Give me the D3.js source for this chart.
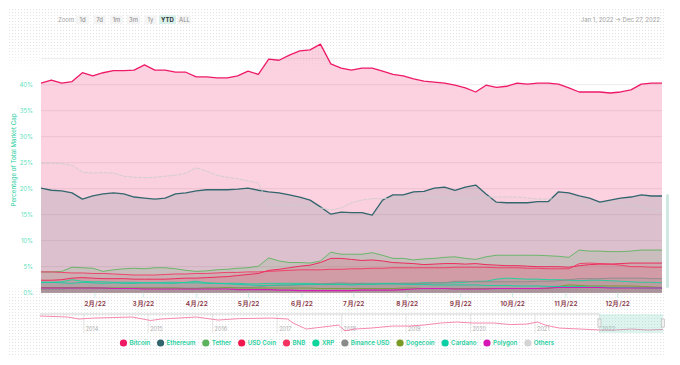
<!DOCTYPE html>
<html>
<head>
<meta charset="utf-8">
<script src="https://cdn.jsdelivr.net/npm/d3@7"></script>
<style>
  body { margin: 0; background: #fff; }
  svg { display: block; font-family: Inter, "Open Sans", sans-serif; }
</style>
</head>
<body>
<script>
// sample dates: every 6 days from Jan 1 to Dec 27, 2022
const startDay = new Date(2022, 0, 1);
const dates = d3.range(61).map(i => d3.timeDay.offset(startDay, i * 6));

// dominance values (%)
const bitcoin = [40.3, 40.9, 40.3, 40.6, 42.3, 41.7, 42.3, 42.7, 42.7, 42.8, 43.8, 42.8, 42.8, 42.4, 42.4, 41.5, 41.5, 41.3, 41.3, 41.7, 42.6, 42.0, 44.9, 44.7, 45.7, 46.5, 46.7, 47.8, 44.0, 43.2, 42.8, 43.2, 43.2, 42.6, 42.0, 41.7, 41.1, 40.7, 40.5, 40.3, 39.9, 39.4, 38.6, 39.9, 39.5, 39.7, 40.3, 40.1, 40.3, 40.3, 40.1, 39.4, 38.6, 38.6, 38.6, 38.4, 38.6, 39.0, 40.1, 40.3, 40.3];
const ethereum = [20.1, 19.7, 19.6, 19.2, 18.0, 18.6, 19.0, 19.2, 19.0, 18.4, 18.2, 18.0, 18.2, 19.0, 19.2, 19.6, 19.8, 19.8, 19.8, 19.9, 20.1, 19.7, 19.4, 19.2, 18.8, 18.4, 17.8, 16.5, 15.1, 15.5, 15.4, 15.4, 14.9, 17.8, 18.8, 18.8, 19.4, 19.5, 20.1, 20.3, 19.7, 20.3, 20.7, 19.0, 17.4, 17.3, 17.3, 17.3, 17.5, 17.5, 19.4, 19.2, 18.6, 18.2, 17.4, 17.8, 18.2, 18.4, 18.8, 18.6, 18.6];
const tether = [4.0, 4.0, 4.1, 4.9, 4.8, 4.7, 4.1, 4.4, 4.6, 4.7, 4.6, 4.8, 4.8, 4.6, 4.3, 4.1, 4.2, 4.4, 4.5, 4.7, 4.8, 5.1, 6.7, 6.1, 5.8, 5.8, 5.7, 6.1, 7.8, 7.4, 7.4, 7.4, 7.7, 7.2, 6.6, 6.6, 6.3, 6.5, 6.6, 6.8, 6.9, 6.6, 6.4, 6.9, 7.2, 7.2, 7.2, 7.2, 7.2, 7.1, 7.0, 6.8, 8.2, 8.0, 8.0, 7.9, 7.9, 8.0, 8.2, 8.2, 8.2];
const usdCoin = [2.4, 2.4, 2.5, 2.8, 2.9, 2.8, 2.7, 2.7, 2.7, 2.6, 2.6, 2.6, 2.6, 2.7, 2.8, 2.8, 2.9, 3.0, 3.1, 3.3, 3.5, 3.7, 4.3, 4.5, 4.8, 5.1, 5.3, 5.8, 6.6, 6.6, 6.4, 6.2, 6.3, 6.1, 5.8, 5.7, 5.6, 5.4, 5.5, 5.6, 5.6, 5.5, 5.6, 5.4, 5.3, 5.2, 5.2, 5.1, 5.0, 5.0, 5.0, 4.9, 5.2, 5.4, 5.5, 5.5, 5.6, 5.7, 5.7, 5.7, 5.7];
const bnb = [4.0, 4.0, 3.9, 3.8, 3.8, 3.7, 3.7, 3.6, 3.5, 3.4, 3.4, 3.4, 3.5, 3.6, 3.6, 3.7, 3.7, 3.8, 3.9, 3.9, 4.0, 4.0, 4.1, 4.2, 4.3, 4.4, 4.4, 4.4, 4.5, 4.5, 4.6, 4.6, 4.7, 4.7, 4.8, 4.8, 4.8, 4.8, 4.8, 4.8, 4.9, 4.9, 4.9, 4.9, 4.8, 4.8, 4.8, 4.7, 4.7, 4.6, 4.6, 4.6, 5.6, 5.7, 5.6, 5.5, 5.3, 5.0, 5.0, 4.9, 4.9];
const xrp = [2.0, 2.0, 2.1, 2.5, 2.2, 2.1, 2.1, 2.0, 2.0, 2.0, 1.9, 1.9, 2.0, 2.0, 1.9, 1.9, 1.8, 1.8, 1.8, 1.8, 1.7, 1.7, 1.8, 1.8, 1.8, 1.8, 1.8, 1.7, 1.7, 1.7, 1.7, 1.8, 1.8, 1.8, 1.8, 1.8, 1.8, 1.9, 1.9, 1.9, 1.9, 2.0, 2.2, 2.2, 2.6, 2.8, 2.7, 2.6, 2.6, 2.5, 2.5, 2.4, 2.3, 2.4, 2.4, 2.3, 2.2, 2.1, 2.0, 2.0, 1.9];
const binanceUsd = [0.7, 0.7, 0.7, 0.9, 0.9, 0.9, 0.9, 0.9, 0.9, 0.9, 0.9, 0.9, 0.9, 0.9, 0.9, 0.9, 0.9, 0.9, 0.9, 1.0, 1.0, 1.1, 1.4, 1.4, 1.4, 1.5, 1.6, 1.7, 1.8, 1.9, 1.8, 1.8, 1.7, 1.7, 1.7, 1.8, 1.8, 1.8, 1.9, 1.9, 2.2, 2.2, 2.1, 2.1, 2.1, 2.1, 2.1, 2.1, 2.2, 2.2, 2.3, 2.5, 2.7, 2.7, 2.7, 2.8, 2.8, 2.8, 2.8, 2.7, 2.7];
const dogecoin = [1.0, 1.0, 1.0, 1.0, 1.0, 1.0, 0.9, 0.9, 0.9, 0.9, 0.9, 0.9, 0.9, 0.9, 0.8, 0.8, 0.9, 0.9, 1.0, 0.9, 0.9, 0.9, 0.9, 0.9, 0.9, 0.9, 0.9, 0.8, 0.8, 0.8, 0.8, 0.8, 0.8, 0.8, 0.8, 0.9, 0.9, 0.8, 0.8, 0.8, 0.8, 0.8, 0.8, 0.8, 0.8, 0.8, 0.8, 0.8, 0.8, 0.8, 1.2, 1.5, 1.4, 1.3, 1.3, 1.3, 1.3, 1.3, 1.2, 1.1, 1.0];
const cardano = [2.0, 2.0, 1.9, 1.8, 2.0, 1.9, 1.8, 1.9, 1.8, 1.8, 1.9, 1.9, 1.8, 1.8, 2.0, 2.2, 1.9, 1.8, 1.7, 1.6, 1.5, 1.4, 1.4, 1.5, 1.5, 1.6, 1.6, 1.6, 1.6, 1.6, 1.5, 1.6, 1.6, 1.7, 1.7, 1.6, 1.6, 1.6, 1.5, 1.5, 1.5, 1.5, 1.5, 1.4, 1.4, 1.4, 1.3, 1.3, 1.3, 1.2, 1.2, 1.2, 1.2, 1.1, 1.1, 1.0, 1.0, 1.0, 0.9, 0.9, 0.9];
const polygon = [0.9, 0.9, 0.9, 0.9, 0.9, 0.9, 0.9, 0.8, 0.8, 0.8, 0.7, 0.7, 0.7, 0.7, 0.7, 0.7, 0.7, 0.7, 0.7, 0.6, 0.6, 0.6, 0.6, 0.5, 0.5, 0.4, 0.4, 0.4, 0.4, 0.4, 0.4, 0.5, 0.5, 0.5, 0.5, 0.6, 0.7, 0.8, 0.8, 0.8, 0.7, 0.7, 0.7, 0.7, 0.8, 0.8, 0.8, 0.8, 0.8, 0.9, 1.0, 1.0, 1.0, 1.0, 1.0, 0.9, 0.9, 0.9, 0.9, 0.9, 0.9];
const others = [24.9, 24.9, 24.8, 24.5, 23.2, 23.0, 23.1, 23.0, 22.4, 22.2, 22.1, 22.2, 22.4, 22.6, 23.0, 24.0, 23.4, 22.6, 22.2, 21.9, 21.5, 21.1, 16.9, 16.9, 16.7, 16.9, 16.9, 16.3, 15.9, 16.3, 17.3, 17.8, 18.1, 18.1, 18.1, 18.3, 18.4, 18.4, 18.4, 18.2, 18.0, 18.1, 18.2, 18.4, 18.4, 18.4, 18.4, 18.2, 18.0, 18.0, 18.2, 18.3, 18.2, 16.9, 17.1, 17.2, 17.1, 16.9, 16.5, 15.9, 15.7];

// navigator: bitcoin dominance since 2013
const navDates = ["2013-04-28", "2013-10-01", "2013-12-05", "2014-03-01", "2014-10-01", "2015-01-15", "2015-03-15", "2015-10-01", "2016-02-01", "2016-06-01", "2016-12-01", "2017-03-01", "2017-04-01", "2017-06-15", "2017-09-15", "2017-12-15", "2018-01-20", "2018-03-15", "2018-06-15", "2018-10-15", "2019-01-15", "2019-04-15", "2019-07-15", "2019-10-15", "2020-01-15", "2020-05-15", "2020-08-15", "2020-11-15", "2021-01-15", "2021-03-01", "2021-05-20", "2021-09-15", "2022-01-01", "2022-04-01", "2022-07-01", "2022-10-01", "2022-12-27"];
const navBitcoin = [92.6, 88.9, 81.5, 85, 88.9, 76, 81.5, 88.9, 77.8, 83, 85, 81.5, 66.7, 44.6, 52, 59, 38, 44.6, 48, 55.6, 55.6, 59.5, 66.7, 70.4, 66.7, 66.7, 61, 63, 70.4, 59, 48, 44.6, 41, 41, 44.6, 41, 43];

const yTicks = [0, 5, 10, 15, 20, 25, 30, 35, 40, 45];
const zoomButtons = ["1d", "7d", "1m", "3m", "1y", "YTD", "ALL"];

const series = [
    {name: "Bitcoin", color: "#ee1a66", values: bitcoin, fill: 0.2, width: 1.3},
    {name: "Ethereum", color: "#31656d", values: ethereum, fill: 0.15, width: 1.3},
    {name: "Tether", color: "#5cb35e", values: tether, fill: 0.15, width: 0.9},
    {name: "USD Coin", color: "#f2174f", values: usdCoin, fill: 0.13, width: 0.9},
    {name: "BNB", color: "#f4325f", values: bnb, fill: 0.1, width: 0.9},
    {name: "XRP", color: "#10d69b", values: xrp, fill: 0.08, width: 0.9},
    {name: "Binance USD", color: "#8a8a8a", values: binanceUsd, fill: 0.1, width: 0.9},
    {name: "Dogecoin", color: "#7b9a25", values: dogecoin, fill: 0.08, width: 0.9},
    {name: "Cardano", color: "#0dcfa6", values: cardano, fill: 0.08, width: 0.9},
    {name: "Polygon", color: "#d617b6", values: polygon, fill: 0.08, width: 1.1},
    {name: "Others", color: "#cdcdcd", values: others, fill: 0.03, width: 0.9}
];

const w = 680, h = 365;
const svg = d3.select("body").append("svg").attr("width", w).attr("height", h);
const defs = svg.append("defs");

// dotted backdrop, faded in the middle
defs.append("pattern").attr("id", "dots")
    .attr("width", 3).attr("height", 3).attr("patternUnits", "userSpaceOnUse")
    .append("rect").attr("width", 1).attr("height", 1).attr("fill", "#e3e3e3");
const grad = defs.append("linearGradient").attr("id", "fade")
    .attr("gradientUnits", "userSpaceOnUse").attr("x1", 0).attr("y1", 0).attr("x2", 0).attr("y2", h);
[[0, 1], [45, 1], [72, 0], [284, 0], [296, 1], [365, 1]].forEach(s => {
    grad.append("stop").attr("offset", s[0] / h).attr("stop-color", "#fff").attr("stop-opacity", s[1]);
});
defs.append("mask").attr("id", "fadeMask")
    .append("rect").attr("x", 0).attr("y", 0).attr("width", w).attr("height", h).attr("fill", "url(#fade)");
svg.append("rect")
    .attr("x", 8).attr("y", 9).attr("width", 658).attr("height", 348)
    .attr("fill", "url(#dots)").attr("mask", "url(#fadeMask)");

const x = d3.scaleTime().domain([dates[0], dates[dates.length - 1]]).range([41, 662]);
const y = d3.scaleLinear().domain([0, 45]).range([292.7, 58.7]);

// grid
svg.append("g").selectAll("line").data(yTicks).enter().append("line")
    .attr("x1", 41).attr("x2", 662)
    .attr("y1", d => y(d)).attr("y2", d => y(d))
    .attr("stroke", "#ececec").attr("stroke-width", 1);

svg.append("g").selectAll("text").data(yTicks.filter(d => d < 45)).enter().append("text")
    .attr("x", 33).attr("y", d => y(d)).attr("dy", "0.35em")
    .attr("text-anchor", "end").attr("font-size", "6px").attr("fill", "#5fdfc0")
    .text(d => d + "%");

svg.append("text")
    .attr("transform", "translate(16,160) rotate(-90)")
    .attr("text-anchor", "middle").attr("font-size", "6.2px").attr("fill", "#22cc9c")
    .text("Percentage of Total Market Cap");

// areas then lines
const area = d3.area().x(d => x(d.date)).y0(y(0)).y1(d => y(d.v));
const line = d3.line().x(d => x(d.date)).y(d => y(d.v));
const plot = svg.append("g");
series.forEach(s => {
    const pts = s.values.map((v, i) => ({date: dates[i], v: v}));
    plot.append("path").datum(pts).attr("d", area)
        .attr("fill", s.color).attr("fill-opacity", s.fill);
    plot.append("path").datum(pts).attr("d", line)
        .attr("fill", "none").attr("stroke", s.color)
        .attr("stroke-width", s.width).attr("stroke-linejoin", "round")
        .attr("stroke-dasharray", s.name === "Others" ? "4,1" : null);
});

// x axis
const monthTicks = d3.timeMonth.range(new Date(2022, 1, 1), new Date(2022, 11, 2));
const xAxis = svg.append("g").attr("transform", `translate(0,${y(0)})`)
    .call(d3.axisBottom(x).tickValues(monthTicks)
        .tickFormat(d => (d.getMonth() + 1) + "月/22").tickSize(5).tickPadding(3.5));
xAxis.select(".domain").remove();
xAxis.selectAll(".tick line").attr("stroke", "#cdeee5");
xAxis.selectAll(".tick text").attr("fill", "#8a3646").attr("font-size", "6.5px")
    .attr("font-weight", 600).attr("font-family", "Inter, sans-serif");

// zoom buttons
svg.append("text").attr("x", 58).attr("y", 19.5).attr("dy", "0.35em")
    .attr("font-size", "6px").attr("fill", "#a5a5a5").text("Zoom");
const btnX = d3.scalePoint().domain(zoomButtons).range([82.5, 184.5]);
const btn = svg.append("g").selectAll("g").data(zoomButtons).enter().append("g")
    .attr("transform", d => `translate(${btnX(d)},19.5)`);
btn.append("rect")
    .attr("x", d => d === "YTD" ? -8.5 : -6.5).attr("y", -4.5)
    .attr("width", d => d === "YTD" ? 17 : 13).attr("height", 9).attr("rx", 1)
    .attr("fill", d => d === "YTD" ? "#d8f2eb" : "#f5f5f5");
btn.append("text").attr("text-anchor", "middle").attr("dy", "0.35em")
    .attr("font-size", "6px").attr("font-weight", d => d === "YTD" ? 700 : 400)
    .attr("fill", d => d === "YTD" ? "#333" : "#888").text(d => d);

svg.append("text").attr("x", 660).attr("y", 19.5).attr("dy", "0.35em")
    .attr("text-anchor", "end").attr("font-size", "6px").attr("fill", "#a5a5a5")
    .text("Jan 1, 2022  →  Dec 27, 2022");

// right scrollbar
svg.append("rect").attr("x", 666).attr("y", 194).attr("width", 3).attr("height", 94)
    .attr("rx", 1.5).attr("fill", "#cfe9e2");

// navigator
const nx = d3.scaleTime().domain([new Date(2013, 3, 28), new Date(2022, 11, 27)]).range([40, 663]);
const ny = d3.scaleLinear().domain([30, 100]).range([333, 314]);
const nav = svg.append("g");
const years = d3.timeYear.range(new Date(2014, 0, 1), new Date(2022, 11, 31));
nav.selectAll("line.yr").data(years).enter().append("line")
    .attr("x1", d => nx(d)).attr("x2", d => nx(d)).attr("y1", 314).attr("y2", 333)
    .attr("stroke", "#e6e6e6");
nav.selectAll("text").data(years).enter().append("text")
    .attr("x", d => nx(d) + 2).attr("y", 330.5)
    .attr("font-size", "5.5px").attr("fill", "#b0b0b0")
    .text(d => d.getFullYear());
const navPts = navDates.map((d, i) => ({date: new Date(d), v: navBitcoin[i]}));
nav.append("path").datum(navPts)
    .attr("d", d3.line().x(d => nx(d.date)).y(d => ny(d.v)))
    .attr("fill", "none").attr("stroke", "#f57aa6").attr("stroke-width", 0.9);
nav.append("rect").attr("x", nx(dates[0])).attr("y", 314)
    .attr("width", nx(dates[dates.length - 1]) - nx(dates[0])).attr("height", 19)
    .attr("fill", "#8ad6c8").attr("fill-opacity", 0.3);
nav.append("line").attr("x1", 40).attr("x2", nx(dates[0])).attr("y1", 314).attr("y2", 314)
    .attr("stroke", "#d0d0d0");
[dates[0], dates[dates.length - 1]].forEach(d => {
    nav.append("rect").attr("x", nx(d) - 1.5).attr("y", 319).attr("width", 3).attr("height", 8)
        .attr("fill", "#f2f2f2").attr("stroke", "#aaa").attr("stroke-width", 0.5);
});

// legend
const legend = svg.append("g");
let lx = 0;
series.forEach(s => {
    const item = legend.append("g").attr("transform", `translate(${lx},0)`);
    item.append("circle").attr("cx", 0).attr("cy", 0).attr("r", 3.6).attr("fill", s.color === "#cdcdcd" ? "#d4d4d4" : s.color);
    const t = item.append("text").attr("x", 6).attr("dy", "0.35em")
        .attr("font-size", "6.2px").attr("font-weight", 600).attr("fill", "#27cfa0").text(s.name);
    lx += 6 + t.node().getComputedTextLength() + 10.5;
});
const legendW = lx - 10.5 + 3.6;
legend.attr("transform", `translate(${337 - legendW / 2 + 3.6},343)`);
</script>
</body>
</html>
